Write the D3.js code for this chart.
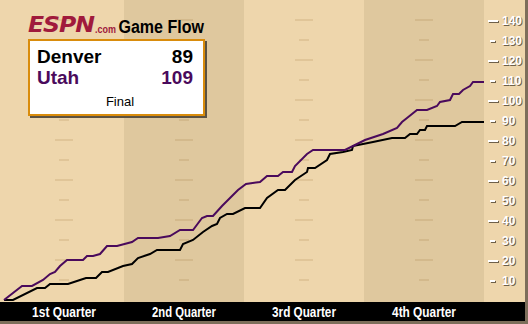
<!DOCTYPE html>
<html>
<head>
<meta charset="utf-8">
<script src="https://cdn.jsdelivr.net/npm/d3@7"></script>
<style>
  body { margin: 0; background: #fff; }
  svg { display: block; }
</style>
</head>
<body>
<div class="chart"></div>
<script>
// game minutes and running score
const denverTime  = [0, 0.9, 3.3, 4.1, 4.6, 6.4, 7.6, 8.2, 9.2, 9.8, 10.4, 11.9, 12.8, 13.4, 14.6, 15.3, 17.6, 17.9, 18.9, 19.9, 20.8, 21.3, 21.6, 22.3, 22.9, 24.1, 25.6, 26.3, 27.4, 28.1, 29.1, 30.3, 30.4, 31.1, 32.3, 32.6, 33.9, 34.8, 34.9, 35.9, 36.9, 38.8, 40.1, 40.6, 41.3, 41.6, 42.1, 42.3, 45.1, 45.8, 48];
const denverScore = [0, 0, 6, 6, 8, 8, 10, 11, 11, 14, 14, 17, 18, 21, 23, 25, 25, 28, 30, 34, 37, 38, 41, 43, 43, 46, 46, 51, 55, 55, 60, 64, 66, 66, 70, 73, 74, 75, 77, 78, 79, 81, 81, 83, 83, 85, 85, 87, 87, 89, 89];

const utahTime  = [0, 1.8, 2.8, 3.9, 4.6, 5.1, 5.6, 6.3, 7.9, 8.3, 8.9, 9.6, 10.3, 11.3, 12.8, 13.4, 15.4, 16.6, 17.6, 18.9, 19.8, 20.3, 20.9, 21.8, 22.6, 23.4, 24.2, 25.6, 26.3, 27.4, 27.9, 28.8, 29.1, 30.3, 30.9, 34.1, 34.9, 36.1, 37.9, 39.3, 39.8, 40.3, 40.8, 41.3, 42.3, 43.3, 43.6, 44.6, 44.9, 45.5, 45.9, 46.6, 46.9, 48];
const utahScore = [0, 7, 7, 10, 13, 14, 17, 20, 20, 22, 22, 23, 27, 27, 29, 31, 31, 32, 35, 35, 41, 42, 42, 47, 51, 55, 58, 59, 62, 62, 64, 64, 67, 73, 75, 75, 77, 80, 83, 86, 89, 91, 93, 95, 95, 97, 99, 100, 103, 103, 105, 107, 109, 109];

const teams = ['Denver', 'Utah'];
const finalScores = [89, 109];
const status = 'Final';
const quarterLabels = ['1st Quarter', '2nd Quarter', '3rd Quarter', '4th Quarter'];
const yTicks = [10, 20, 30, 40, 50, 60, 70, 80, 90, 100, 110, 120, 130, 140];

const width = 528, height = 324;
const light = '#eed6ac', dark = '#dfc89e';
const teamColors = ['#000000', '#4a0a5c'];

const svg = d3.select('.chart').append('svg')
  .attr('width', width)
  .attr('height', height);

const x = d3.scaleLinear().domain([0, 48]).range([4, 484]);
const y = d3.scaleLinear().domain([0, 140]).range([300, 20]);

// squeeze a text horizontally so it is w pixels wide
function squeeze(sel, px, py, w, anchor) {
  sel.attr('x', 0).attr('y', 0).attr('text-anchor', anchor || 'start');
  const len = sel.node().getComputedTextLength();
  sel.attr('transform', 'translate(' + px + ',' + py + ') scale(' + (w / len) + ',1)');
  return sel;
}

// background + quarter bands
svg.append('rect').attr('width', width).attr('height', height).attr('fill', light);

svg.selectAll('rect.band')
  .data(quarterLabels)
  .enter()
  .append('rect')
  .attr('class', 'band')
  .attr('x', (d, i) => x(i * 12))
  .attr('y', 0)
  .attr('width', x(12) - x(0))
  .attr('height', 302)
  .attr('fill', (d, i) => i % 2 ? dark : 'none');

// little dashes in the middle of every quarter
quarterLabels.forEach((q, i) => {
  const cx = x(i * 12 + 6);
  svg.selectAll(null)
    .data(yTicks)
    .enter()
    .append('rect')
    .attr('x', d => cx - (d % 20 === 0 ? 9 : 5))
    .attr('y', d => y(d) - 1)
    .attr('width', d => d % 20 === 0 ? 18 : 10)
    .attr('height', 2)
    .attr('fill', '#9a7038')
    .attr('fill-opacity', 0.17)
    .attr('shape-rendering', 'crispEdges');
});

// right axis, white embossed labels
const axis = d3.axisRight(y).tickValues(yTicks).tickSize(0).tickPadding(0);
const gAxis = svg.append('g')
  .attr('transform', 'translate(502,0)')
  .call(axis);
gAxis.select('.domain').remove();
gAxis.selectAll('.tick text').remove();

gAxis.selectAll('.tick').each(function(d) {
  const t = d3.select(this);
  const len = d % 20 === 0 ? 10 : 5;
  const x0 = -9.5 - len / 2;
  t.append('rect').attr('x', x0 + 1).attr('y', 0).attr('width', len).attr('height', 2)
    .attr('fill', '#6e604a').attr('shape-rendering', 'crispEdges');
  t.append('rect').attr('x', x0).attr('y', -1).attr('width', len).attr('height', 2)
    .attr('fill', '#ffffff').attr('shape-rendering', 'crispEdges');
  [['#6e604a', 1], ['#ffffff', 0]].forEach(([c, o]) => {
    t.append('text')
      .attr('x', o)
      .attr('y', o)
      .attr('dy', '0.36em')
      .attr('fill', c)
      .style('font', 'bold 12px "Liberation Sans", Arial, sans-serif')
      .text(d);
  });
});

// score lines
const line = d3.line()
  .x(d => x(d[0]))
  .y(d => y(d[1]));

const series = [d3.zip(denverTime, denverScore), d3.zip(utahTime, utahScore)];
svg.selectAll('path.team')
  .data(series)
  .enter()
  .append('path')
  .attr('class', 'team')
  .attr('d', line)
  .attr('fill', 'none')
  .attr('stroke', (d, i) => teamColors[i])
  .attr('stroke-width', 2);

// bottom bar with quarter names
svg.append('rect').attr('x', 0).attr('y', 302).attr('width', width).attr('height', 19).attr('fill', '#000');

quarterLabels.forEach((q, i) => {
  const t = svg.append('text')
    .attr('fill', '#fff')
    .style('font', 'bold 14px "Liberation Sans", Arial, sans-serif')
    .text(q);
  squeeze(t, x(i * 12 + 6), 317, 64, 'middle');
});

// frame on right and bottom
svg.append('rect').attr('x', 525).attr('y', 0).attr('width', 3).attr('height', height).attr('fill', '#7d6e5a');
svg.append('rect').attr('x', 0).attr('y', 321).attr('width', width).attr('height', 3).attr('fill', '#7d6e5a');

// header logo
const espn = svg.append('text')
  .attr('fill', '#a01a3c')
  .style('font', 'italic 900 22px "DejaVu Sans", Arial, sans-serif')
  .style('letter-spacing', '-1px')
  .text('ESPN');
squeeze(espn, 28, 32, 66);
const dotcom = svg.append('text')
  .attr('fill', '#a01a3c')
  .style('font', 'bold 11px "Liberation Sans", Arial, sans-serif')
  .text('.com');
squeeze(dotcom, 95, 32.5, 21);
const flow = svg.append('text')
  .attr('fill', '#000')
  .style('font', 'bold 18px "Liberation Sans", Arial, sans-serif')
  .text('Game Flow');
squeeze(flow, 118.5, 33, 85.5);

// score box
svg.append('rect').attr('x', 30).attr('y', 41).attr('width', 177).attr('height', 77).attr('fill', '#5b5242');
svg.append('rect').attr('x', 29).attr('y', 40).attr('width', 175).attr('height', 75)
  .attr('fill', '#fff').attr('stroke', '#d98c0c').attr('stroke-width', 2);

teams.forEach((t, i) => {
  svg.append('text')
    .attr('x', 37).attr('y', 63 + i * 21)
    .attr('fill', teamColors[i])
    .style('font', 'bold 19px "Liberation Sans", Arial, sans-serif')
    .text(t);
  svg.append('text')
    .attr('x', 193).attr('y', 63 + i * 21)
    .attr('text-anchor', 'end')
    .attr('fill', teamColors[i])
    .style('font', 'bold 19px "Liberation Sans", Arial, sans-serif')
    .text(finalScores[i]);
});
svg.append('text')
  .attr('x', 120).attr('y', 106)
  .attr('text-anchor', 'middle')
  .attr('fill', '#000')
  .style('font', '13px "Liberation Sans", Arial, sans-serif')
  .text(status);
</script>
</body>
</html>
